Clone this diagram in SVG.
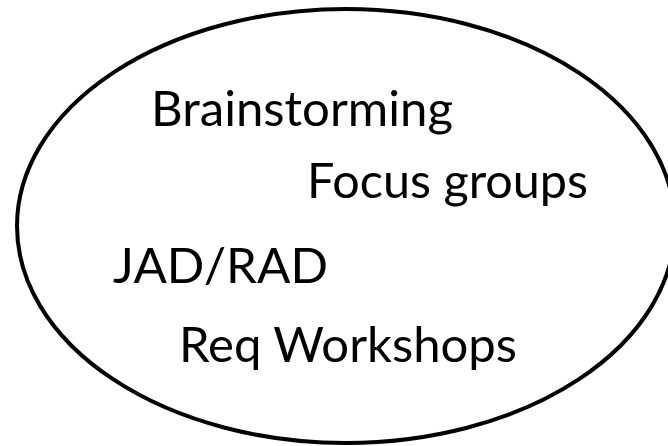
<svg xmlns="http://www.w3.org/2000/svg" width="668" height="446" viewBox="0 0 668 446">
  <style>
    .outline { fill: none; stroke: #000; stroke-width: 4; }
    .label { font-family: "Lato", "Open Sans", "Liberation Sans", sans-serif; font-size: 48px; fill: #000; }
  </style>
  <rect width="668" height="446" fill="#fff"/>
  <!-- enclosing set of elicitation techniques -->
  <g id="set">
    <ellipse class="outline" cx="346" cy="226" rx="329" ry="217"/>
  </g>
  <g id="brainstorming">
    <text class="label" x="151" y="126" textLength="302" lengthAdjust="spacingAndGlyphs">Brainstorming</text>
  </g>
  <g id="focus-groups">
    <text class="label" x="307" y="198" textLength="281" lengthAdjust="spacingAndGlyphs">Focus groups</text>
  </g>
  <g id="jad-rad">
    <text class="label" x="113" y="283" textLength="215" lengthAdjust="spacingAndGlyphs">JAD/RAD</text>
  </g>
  <g id="req-workshops">
    <text class="label" x="179" y="362" textLength="338" lengthAdjust="spacingAndGlyphs">Req Workshops</text>
  </g>
</svg>
